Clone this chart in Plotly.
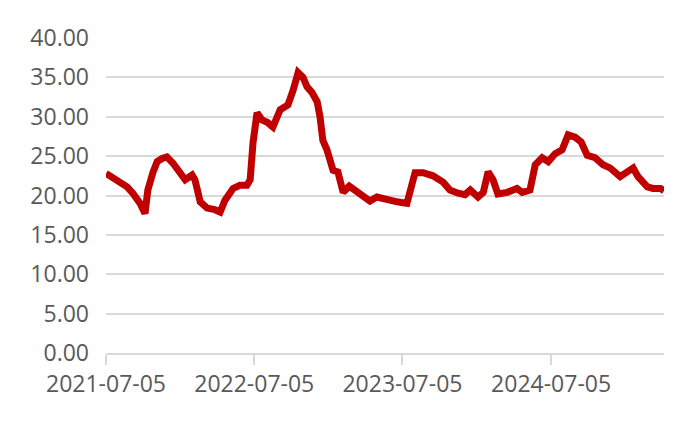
"""
Série histórica (2021-07 a 2025-04) - gráfico de linha com Plotly
"""

import plotly.graph_objects as go

# Datas das observações
dates = [
    '2021-07-05', '2021-07-22', '2021-08-08', '2021-08-26', '2021-09-09',
    '2021-09-27', '2021-10-09', '2021-10-16', '2021-10-29', '2021-11-08',
    '2021-11-20', '2021-12-02', '2021-12-17', '2022-01-03', '2022-01-16',
    '2022-02-02', '2022-02-09', '2022-02-22', '2022-03-11', '2022-03-30',
    '2022-04-12', '2022-04-24', '2022-05-14', '2022-05-31', '2022-06-17',
    '2022-06-25', '2022-07-02', '2022-07-12', '2022-07-24', '2022-08-06',
    '2022-08-20', '2022-09-07', '2022-09-26', '2022-10-09', '2022-10-21',
    '2022-11-02', '2022-11-12', '2022-11-24', '2022-12-07', '2022-12-14',
    '2022-12-21', '2022-12-31', '2023-01-15', '2023-01-27', '2023-02-09',
    '2023-02-24', '2023-03-15', '2023-03-30', '2023-04-16', '2023-05-03',
    '2023-05-28', '2023-06-22', '2023-07-16', '2023-07-29', '2023-08-05',
    '2023-08-25', '2023-09-18', '2023-10-13', '2023-10-30', '2023-11-19',
    '2023-12-06', '2023-12-19', '2024-01-07', '2024-01-20', '2024-02-01',
    '2024-02-13', '2024-02-25', '2024-03-19', '2024-04-12', '2024-04-25',
    '2024-05-14', '2024-05-27', '2024-06-13', '2024-06-28', '2024-07-15',
    '2024-08-01', '2024-08-16', '2024-09-02', '2024-09-17', '2024-10-02',
    '2024-10-21', '2024-11-10', '2024-11-27', '2024-12-22', '2025-01-08',
    '2025-01-23', '2025-02-04', '2025-02-27', '2025-03-13', '2025-03-31',
    '2025-04-09',
]

values = [
    22.8, 22.3, 21.8, 21.1, 20.3,
    19.0, 17.7, 20.7, 23.0, 24.3,
    24.7, 24.9, 24.1, 23.0, 22.0,
    22.6, 22.0, 19.2, 18.4, 18.2,
    17.9, 19.4, 20.9, 21.3, 21.3,
    22.0, 26.7, 30.5, 29.6, 29.3,
    28.7, 30.9, 31.5, 33.4, 35.6,
    35.0, 33.8, 33.1, 31.9, 30.0,
    27.0, 25.8, 23.2, 23.0, 20.4,
    21.2, 20.4, 19.8, 19.3, 19.8,
    19.4, 19.2, 19.0, 21.1, 22.9,
    22.9, 22.5, 21.7, 20.7, 20.3,
    20.1, 20.7, 19.8, 20.4, 23.0,
    22.0, 20.2, 20.4, 20.9, 20.4,
    20.7, 23.9, 24.8, 24.3, 25.3,
    25.8, 27.7, 27.4, 26.8, 25.1,
    24.8, 23.9, 23.5, 22.4, 22.9,
    23.5, 22.4, 21.1, 20.9, 20.9,
    20.6,
]

# Eixos
x_ticks = ['2021-07-05', '2022-07-05', '2023-07-05', '2024-07-05']
y_ticks = [0, 5, 10, 15, 20, 25, 30, 35, 40]

# Cores
colors = {
    'line': '#C00000',
    'text': '#595959',
    'grid': '#D9D9D9',
}

fig = go.Figure()

fig.add_trace(go.Scatter(
    x=dates,
    y=values,
    mode='lines',
    line=dict(color=colors['line'], width=7),
    showlegend=False,
))

# a página tem 8px de margem no body, por isso figura um pouco menor
fig.update_layout(
    width=692,
    height=420,
    margin=dict(l=98, r=36, t=30, b=75),
    plot_bgcolor='white',
    paper_bgcolor='white',
    font=dict(family='Open Sans', size=23, color=colors['text']),
    xaxis=dict(
        range=['2021-07-05', '2025-04-09'],
        tickvals=x_ticks,
        ticktext=x_ticks,
        ticks='outside',
        ticklen=10,
        tickwidth=1.5,
        tickcolor=colors['grid'],
        showgrid=False,
        showline=True,
        linecolor=colors['grid'],
        linewidth=1.5,
        zeroline=False,
    ),
    yaxis=dict(
        range=[0, 40],
        tickvals=y_ticks,
        ticktext=[f'{v:.2f}' for v in y_ticks],
        showgrid=True,
        gridcolor=colors['grid'],
        gridwidth=1.5,
        zeroline=False,
        ticklabelstandoff=16,
    ),
)

fig.write_html("out.html")
